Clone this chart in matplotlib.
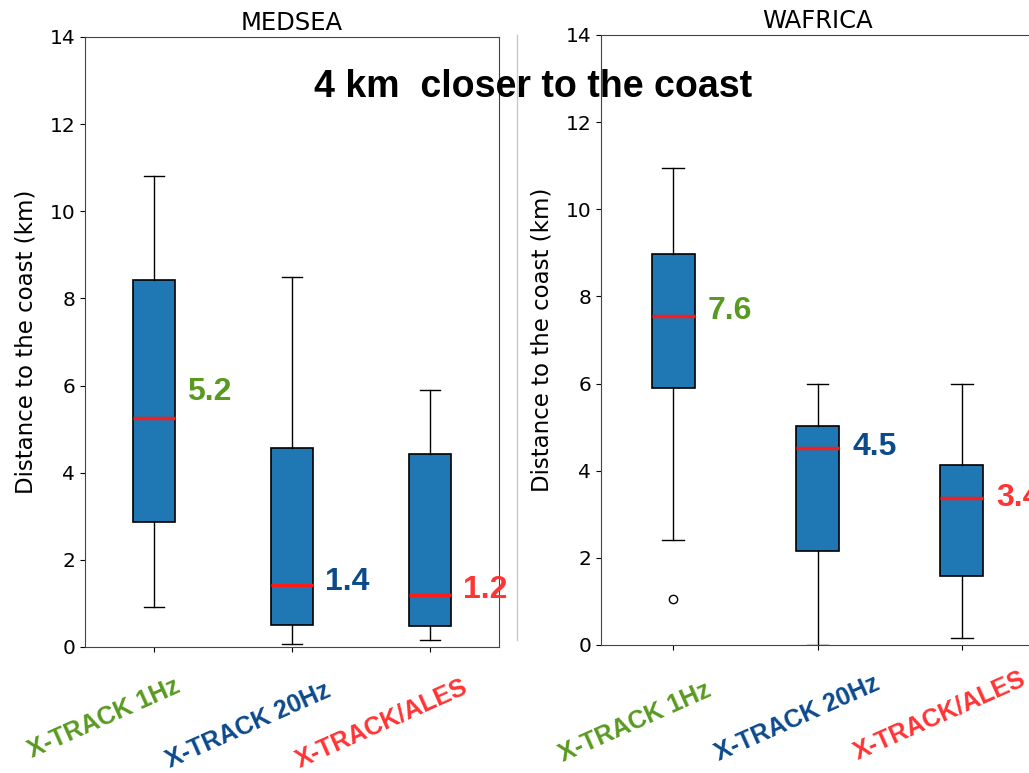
import matplotlib.pyplot as plt
from matplotlib.lines import Line2D
from matplotlib.transforms import ScaledTranslation

# products compared in each region
products = ["X-TRACK 1Hz", "X-TRACK 20Hz", "X-TRACK/ALES"]
product_colors = ["#589a1f", "#0c4a8c", "#ff3434"]

# box statistics (km from the coast)
medsea_whislo = [0.92, 0.08, 0.15]
medsea_q1 = [2.88, 0.50, 0.48]
medsea_med = [5.25, 1.43, 1.19]
medsea_q3 = [8.42, 4.57, 4.42]
medsea_whishi = [10.82, 8.50, 5.90]
medsea_fliers = [[], [], []]

wafrica_whislo = [2.40, 0.0, 0.15]
wafrica_q1 = [5.90, 2.16, 1.58]
wafrica_med = [7.55, 4.53, 3.37]
wafrica_q3 = [8.97, 5.02, 4.13]
wafrica_whishi = [10.95, 5.98, 5.98]
wafrica_fliers = [[1.05], [], []]

# annotated medians and where the labels sit
medsea_labels = ["5.2", "1.4", "1.2"]
medsea_label_y = [5.85, 1.49, 1.30]
wafrica_labels = ["7.6", "4.5", "3.4"]
wafrica_label_y = [7.67, 4.54, 3.37]


def make_stats(lo, q1, med, q3, hi, fl):
    return [dict(whislo=a, q1=b, med=c, q3=d, whishi=e, fliers=f)
            for a, b, c, d, e, f in zip(lo, q1, med, q3, hi, fl)]


def draw_panel(ax, stats, title, labels, label_y, tick_shift):
    ax.bxp(stats, widths=0.3, patch_artist=True, showfliers=True,
           boxprops=dict(facecolor="#1f77b4", edgecolor="black", linewidth=1.2),
           medianprops=dict(color="#ff1a1a", linewidth=2.5),
           whiskerprops=dict(color="black", linewidth=1),
           capprops=dict(color="black", linewidth=1),
           flierprops=dict(marker="o", markerfacecolor="white",
                           markeredgecolor="black", markersize=6))
    ax.set_ylim(0, 14)
    ax.set_xlim(0.5, 3.5)
    ax.set_yticks(range(0, 15, 2))
    ax.tick_params(axis="y", labelsize=14.5)
    ax.set_title(title, fontsize=17.5, pad=5)
    ax.set_ylabel("Distance to the coast (km)", fontsize=16.5, labelpad=9)
    for s in ax.spines.values():
        s.set_color("#444444")

    # rotated product names, nudged right/down from their ticks (pixels)
    ax.set_xticks([1, 2, 3])
    ax.set_xticklabels(products, rotation=24, ha="right", va="baseline",
                       rotation_mode="anchor",
                       fontsize=18, fontweight="bold",
                       family="Liberation Sans")
    for lab, c, (dx, dy) in zip(ax.get_xticklabels(), product_colors, tick_shift):
        lab.set_color(c)
        shift = ScaledTranslation(dx / 100, -dy / 100, ax.figure.dpi_scale_trans)
        lab.set_transform(lab.get_transform() + shift)

    for i, (txt, y) in enumerate(zip(labels, label_y)):
        ax.text(i + 1 + 0.24, y, txt, color=product_colors[i], fontsize=23,
                fontweight="bold", family="Liberation Sans",
                ha="left", va="center")


fig = plt.figure(figsize=(10.29, 7.73), dpi=100)
W, H = 1029, 773

ax1 = fig.add_axes([85 / W, (H - 647) / H, 414 / W, 610 / H])
ax2 = fig.add_axes([601 / W, (H - 645) / H, 433 / W, 610 / H])

draw_panel(ax1, make_stats(medsea_whislo, medsea_q1, medsea_med, medsea_q3,
                           medsea_whishi, medsea_fliers),
           "MEDSEA", medsea_labels, medsea_label_y,
           [(28, 35), (40, 39), (39, 35)])
draw_panel(ax2, make_stats(wafrica_whislo, wafrica_q1, wafrica_med, wafrica_q3,
                           wafrica_whishi, wafrica_fliers),
           "WAFRICA", wafrica_labels, wafrica_label_y,
           [(39, 41), (64, 34), (65, 29)])

# thin divider between the two regions
fig.add_artist(Line2D([517 / W, 517 / W], [(H - 640) / H, (H - 35) / H],
                      color="#c8c8c8", linewidth=1))

fig.text(533 / W, 1 - 87 / H, "4 km  closer to the coast", fontsize=27,
         fontweight="bold", family="Liberation Sans", ha="center", va="center",
         zorder=10)

fig.savefig("out.png", dpi=100)
